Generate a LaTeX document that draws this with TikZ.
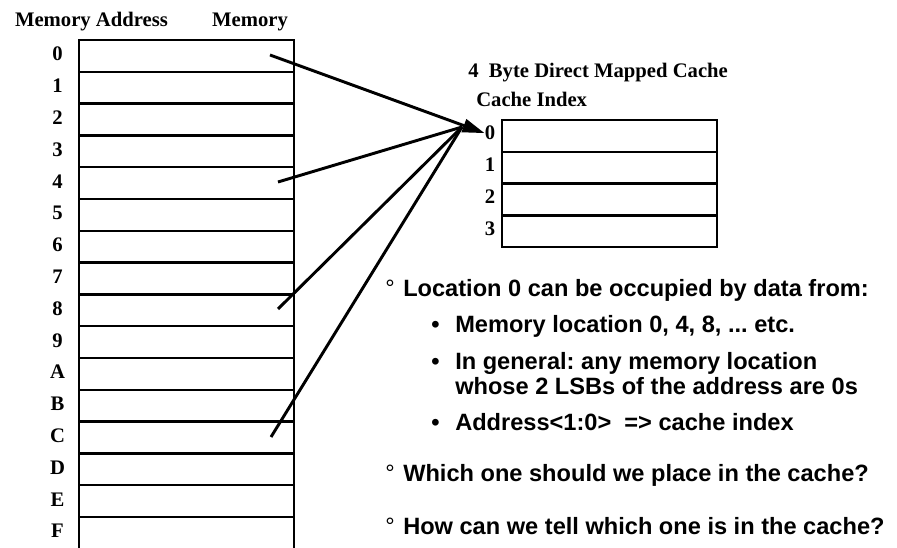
\documentclass[tikz,border=0pt]{standalone}
\usepackage{fontspec}
\setmainfont{Liberation Serif}
\setsansfont{Liberation Sans}
\usepackage{tikz}
\usetikzlibrary{arrows.meta}
\frenchspacing

\tikzset{
  cell/.style={draw, line width=1.8pt, minimum width=161.25pt, minimum height=23.85pt, inner sep=0pt},
  lbl/.style={font=\fontsize{15.5}{18}\selectfont\bfseries, inner sep=0pt},
  txt/.style={font=\fontsize{17.7}{21}\selectfont\sffamily\bfseries, inner sep=0pt, anchor=base west},
  ring/.style={font=\fontsize{17.7}{21}\selectfont\sffamily, inner sep=0pt, anchor=base west},
  link/.style={line width=2.2pt}
}

\begin{document}
\begin{tikzpicture}[x=0.75pt, y=-0.75pt]
  \useasboundingbox (0,0) rectangle (897,548);
  \def\rowh{31.8}
  % headings
  \node[lbl, anchor=base] (hdaddr) at (91.5,27) {Memory Address};
  \node[lbl, anchor=base] (hdmem) at (250,27) {Memory};
  \node[lbl, anchor=base west] (hdcache) at (468,78) {4\hspace{0.5em}Byte Direct Mapped Cache};
  \node[lbl, anchor=base west] (hdidx) at (476,107) {Cache Index};
  % memory column
  \foreach \i/\name in {0/0,1/1,2/2,3/3,4/4,5/5,6/6,7/7,8/8,9/9,10/A,11/B,12/C,13/D,14/E,15/F} {
    \node[cell] (m\i) at (186.5,{40+\i*\rowh+\rowh/2}) {};
    \node[lbl, anchor=base] (a\i) at (57.5,{40+\i*\rowh+\rowh/2+5}) {\name};
  }
  % cache
  \foreach \i in {0,...,3} {
    \node[cell] (c\i) at (609.75,{120+\i*\rowh+\rowh/2}) {};
    \node[lbl, anchor=base] (ci\i) at (490,{120+\i*\rowh+\rowh/2+4}) {\i};
  }
  % mapping lines
  \coordinate (s0) at (270,55);
  \coordinate (s4) at (278,182);
  \coordinate (s8) at (278,309);
  \coordinate (s12) at (271,437);
  \coordinate (hub) at (462,127);
  \draw[link, -{Triangle[length=16.5pt,width=10pt]}] (s0) -- (ci0.west);
  \foreach \k in {4,8,12}
    \draw[link] (s\k) -- (hub);
  % notes
  \node[ring] (o1) at (385,297) {°};
  \node[txt] (t1) at (403,297) {Location 0 can be occupied by data from:};
  \node[txt] (d1) at (431,333) {•};
  \node[txt] (t2) at (455,333) {Memory location 0, 4, 8, ... etc.};
  \node[txt] (d2) at (431,370) {•};
  \node[txt] (t3) at (455,370) {In general: any memory location};
  \node[txt] (t4) at (455,395) {whose 2 LSBs of the address are 0s};
  \node[txt] (d3) at (431,431) {•};
  \node[txt] (t5) at (455,431) {Address<1:0>\ \ => cache index};
  \node[ring] (o2) at (385,482) {°};
  \node[txt] (t6) at (403,482) {Which one should we place in the cache?};
  \node[ring] (o3) at (385,535) {°};
  \node[txt] (t7) at (403,535) {How can we tell which one is in the cache?};
\end{tikzpicture}
\end{document}
